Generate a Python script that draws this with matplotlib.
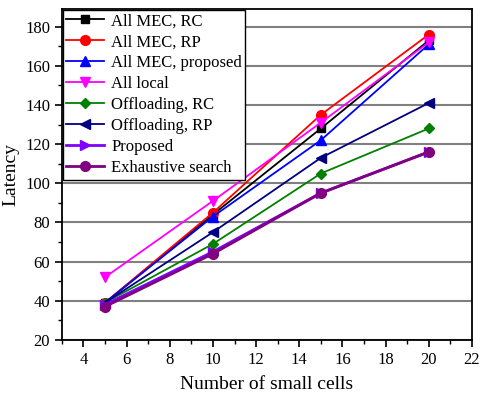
import matplotlib.pyplot as plt
from matplotlib.ticker import MultipleLocator

plt.rcParams['font.family'] = ['Liberation Serif', 'DejaVu Serif']

cells = [5, 10, 15, 20]

all_mec_rc = [39, 84, 128, 173]
all_mec_rp = [39, 85, 135, 176]
all_mec_prop = [39, 83, 122, 171]
all_local = [52, 91, 131, 172]
off_rc = [39, 69, 105, 128]
off_rp = [39, 75, 113, 141]
proposed = [38, 65, 95, 116]
exhaustive = [37, 64, 95, 116]

labels = ['All MEC, RC', 'All MEC, RP', 'All MEC, proposed', 'All local',
          'Offloading, RC', 'Offloading, RP', 'Proposed', 'Exhaustive search']
series = [all_mec_rc, all_mec_rp, all_mec_prop, all_local, off_rc, off_rp, proposed, exhaustive]
colors = ['black', 'red', 'blue', 'magenta', 'green', 'navy', '#8000ff', 'purple']
markers = ['s', 'o', '^', 'v', 'D', '<', '>', 'o']
sizes = [6, 7, 7, 7, 5.5, 7, 7, 7]

fig = plt.figure(figsize=(4.8, 3.97), dpi=100)
ax = fig.add_axes([0.129, 0.144, 0.854, 0.833])

for y, lab, c, m, ms in zip(series, labels, colors, markers, sizes):
    lw = 2.0 if lab in ('Proposed', 'Exhaustive search') else 1.3
    ax.plot(cells, y, color=c, marker=m, markersize=ms, lw=lw, label=lab, zorder=3)

ax.set_xlim(3, 22)
ax.set_ylim(20, 189)
ax.xaxis.set_minor_locator(MultipleLocator(1))
ax.yaxis.set_minor_locator(MultipleLocator(10))
ax.set_xticks(range(4, 23, 2))
ax.set_yticks(range(20, 181, 20))
ax.grid(axis='y', color='gray', lw=1.5, zorder=0)
ax.set_axisbelow(True)

for s in ax.spines.values():
    s.set_linewidth(1.3)
ax.tick_params(which='major', direction='out', length=5, width=1.2, labelsize=12)
ax.tick_params(which='minor', direction='out', length=3, width=1.0)

ax.set_xlabel('Number of small cells', fontsize=14, labelpad=6)
ax.set_ylabel('Latency', fontsize=14)

leg = ax.legend(loc='upper left', fontsize=12, frameon=True, fancybox=False,
                edgecolor='black', framealpha=1, borderaxespad=0.05,
                handlelength=2.3, labelspacing=0.3, borderpad=0.2, handletextpad=0.4)
leg.get_frame().set_linewidth(1.0)

fig.savefig('out.png', dpi=100)
